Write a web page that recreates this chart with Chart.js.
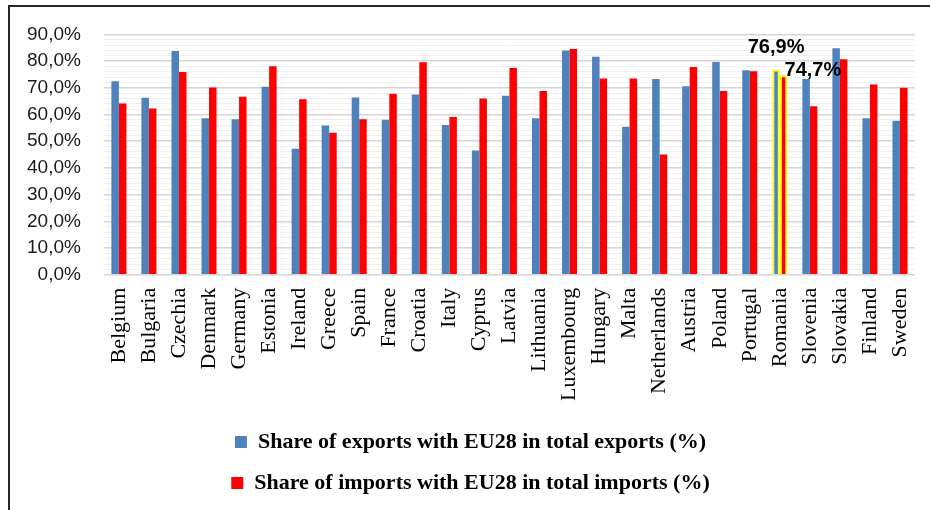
<!DOCTYPE html>
<html>
<head>
<meta charset="utf-8">
<script src="https://cdn.jsdelivr.net/npm/chart.js@4/dist/chart.umd.min.js"></script>
<style>
  html, body { margin: 0; padding: 0; background: #fff; }
  #wrap { position: relative; width: 930px; height: 510px; overflow: hidden; }
  #frame { position: absolute; left: 8px; top: 5px; width: 940px; height: 520px;
           border-left: 2px solid #262626; border-top: 2px solid #262626; }
  canvas { position: absolute; left: 0; top: 0; }
</style>
</head>
<body>
<div id="wrap">
  <div id="frame"></div>
  <canvas id="firstChart" width="930" height="510"></canvas>
</div>
<script>
const countries = ['Belgium', 'Bulgaria', 'Czechia', 'Denmark', 'Germany', 'Estonia', 'Ireland',
  'Greece', 'Spain', 'France', 'Croatia', 'Italy', 'Cyprus', 'Latvia', 'Lithuania', 'Luxembourg',
  'Hungary', 'Malta', 'Netherlands', 'Austria', 'Poland', 'Portugal', 'Romania', 'Slovenia',
  'Slovakia', 'Finland', 'Sweden'];

const exportsShare = [72.5, 66.3, 83.8, 58.6, 58.2, 70.4, 47.2, 55.9, 66.4, 58.0, 67.5, 56.1, 46.5, 67.0,
  58.6, 84.0, 81.6, 55.4, 73.3, 70.6, 79.7, 76.6, 76.9, 73.3, 84.8, 58.6, 57.7];
const importsShare = [64.1, 62.3, 75.9, 70.1, 66.7, 78.1, 65.7, 53.2, 58.2, 67.8, 79.6, 59.1, 66.0, 77.4,
  68.8, 84.5, 73.5, 73.5, 45.0, 77.8, 68.8, 76.2, 74.7, 63.1, 80.7, 71.2, 70.0];

const seriesNames = ['Share of exports with EU28 in total exports (%)',
  'Share of imports with EU28 in total imports (%)'];

// y axis: labels every 10, light minor lines every 2
const yMin = 0;
const yMax = 90;
const yMajorStep = 10;
const yMinorStep = 2;

const highlighted = 'Romania';
const hi = countries.indexOf(highlighted);

function pct(v) {
  return v.toFixed(1).replace('.', ',') + '%';
}

// draws the two value labels over the highlighted country
const romaniaLabels = {
  id: 'romaniaLabels',
  afterDatasetsDraw(chart) {
    const ctx = chart.ctx;
    const exp = chart.getDatasetMeta(0).data[hi];
    const imp = chart.getDatasetMeta(1).data[hi];
    ctx.save();
    ctx.font = 'bold 20px "Liberation Sans", Arial, sans-serif';
    ctx.fillStyle = '#000';
    ctx.textBaseline = 'middle';
    ctx.textAlign = 'center';
    ctx.fillText(pct(exportsShare[hi]), exp.x, exp.y - 22);
    ctx.textAlign = 'left';
    ctx.fillText(pct(importsShare[hi]), imp.x + 1, imp.y - 5);
    ctx.restore();
  }
};

const ctx = document.getElementById('firstChart');
const chart = new Chart(ctx, {
  type: 'bar',
  data: {
    labels: countries,
    datasets: [{
      label: seriesNames[0],
      data: exportsShare,
      backgroundColor: '#4f81bd',
      borderColor: '#ffff00',
      borderWidth: c => c.index === hi ? 2 : 0,
      borderSkipped: 'bottom'
    }, {
      label: seriesNames[1],
      data: importsShare,
      backgroundColor: '#ff0000',
      borderColor: '#ffff00',
      borderWidth: c => c.index === hi ? 2 : 0,
      borderSkipped: 'bottom'
    }]
  },
  options: {
    responsive: false,
    animation: false,
    layout: { padding: { left: 26, right: 15, top: 32, bottom: 6 } },
    datasets: { bar: { categoryPercentage: 0.5, barPercentage: 1 } },
    plugins: {
      tooltip: { enabled: false },
      legend: {
        position: 'bottom',
        labels: {
          color: '#000',
          font: { family: '"Liberation Serif", "Times New Roman", serif', size: 22, weight: 'bold' },
          boxWidth: 12,
          boxHeight: 12,
          padding: 19
        }
      }
    },
    scales: {
      x: {
        grid: { display: false, drawTicks: false },
        border: { display: false },
        afterFit: s => {
          s.height -= 2;
          s.paddingLeft = 0;
          s.paddingRight = 0;
        },
        ticks: {
          autoSkip: false,
          minRotation: 90,
          maxRotation: 90,
          padding: 13,
          color: '#000',
          font: { family: '"Liberation Serif", "Times New Roman", serif', size: 22 }
        }
      },
      y: {
        min: yMin,
        max: yMax,
        border: { display: false },
        afterFit: s => { s.width -= 22; },
        grid: {
          drawTicks: false,
          color: c => c.tick.value % yMajorStep === 0 ? '#d6d6d6' : '#efefef',
          lineWidth: c => c.tick.value % yMajorStep === 0 ? 1.5 : 1
        },
        ticks: {
          stepSize: yMinorStep,
          autoSkip: false,
          padding: 23,
          color: '#1a1a1a',
          font: { family: '"Liberation Sans", Arial, sans-serif', size: 19 },
          callback: v => v % yMajorStep === 0 ? pct(v) : ''
        }
      }
    }
  },
  plugins: [romaniaLabels]
});
</script>
</body>
</html>
